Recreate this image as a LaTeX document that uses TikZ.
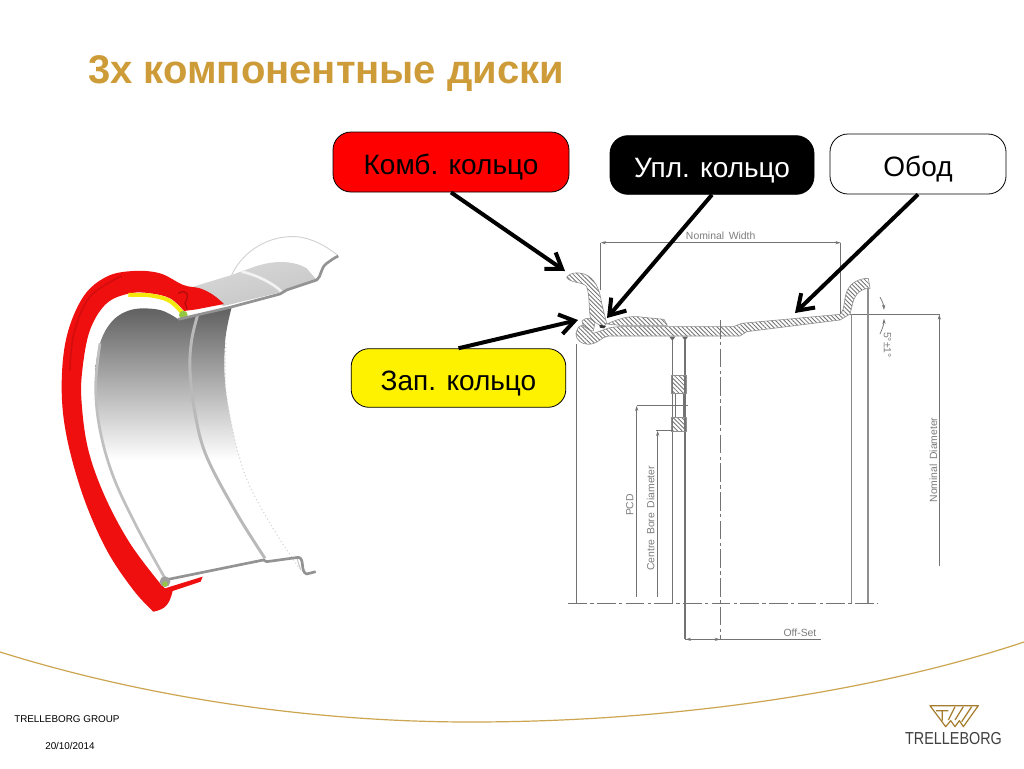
\documentclass[tikz,border=0pt]{standalone}
\usepackage{fontspec}
\setmainfont{Liberation Sans}
\usetikzlibrary{arrows.meta,patterns.meta}
\definecolor{gold}{RGB}{205,155,55}
\definecolor{curvegold}{RGB}{205,165,80}
\definecolor{dwg}{RGB}{115,115,115}
\definecolor{dwgtext}{RGB}{125,125,125}
\definecolor{rimred}{RGB}{240,15,15}
\tikzset{
  callout/.style={draw=black,line width=0.6pt,rounded corners=13.5pt,font=\fontsize{21pt}{25pt}\selectfont,inner sep=0pt},
  pointer/.style={draw=black,line width=3pt,-{Straight Barb[length=11pt,width=15pt,line width=3pt]}},
  dim/.style={draw=dwg,line width=0.55pt},
  dimthick/.style={draw=dwg!85,line width=0.9pt},
  centre/.style={draw=dwg,line width=0.7pt,dash pattern=on 14pt off 2.5pt on 2.5pt off 2.5pt},
  tick/.style={-{Stealth[length=4pt,width=2.4pt]}},
  hatched/.style={draw=dwg!80,line width=0.45pt,pattern={Lines[angle=-45,distance=2.3pt,line width=0.65pt]},pattern color=dwg},
  dwgtxt/.style={text=dwgtext,font=\fontsize{7.8pt}{9pt}\selectfont,inner sep=0pt},
  section/.style={draw=gray!85,line width=2pt,line join=round},
}
\newcommand{\lowertext}[1]{\raisebox{-9pt}[0pt][0pt]{#1}}
\begin{document}
\begin{tikzpicture}[x=0.75pt,y=-0.75pt]
\useasboundingbox (0,0) rectangle (1024,768);
\fill[white] (0,0) rectangle (1024,768);
% title
\node[anchor=west,inner sep=0pt,text=gold,font=\fontsize{30pt}{36pt}\selectfont\bfseries] (title) at (88,74) {3х компонентные диски};
% footer curve
\draw[curvegold,line width=0.9pt] (0,652) .. controls (170,705) and (340,722) .. (470,722) .. controls (680,722) and (880,690) .. (1024,642);
\node[anchor=west,inner sep=0pt,font=\fontsize{7.4pt}{9pt}\selectfont] (group) at (14,719.5) {TRELLEBORG GROUP};
\node[anchor=west,inner sep=0pt,font=\fontsize{7.4pt}{9pt}\selectfont] (date) at (45,745.5) {20/10/2014};
% logo
\begin{scope}[shift={(880,690)},scale=1/3]
\draw[gold!80!black,line width=0.9pt,line join=round] (150,47) -- (295,47) -- (250,110) -- (238,92) -- (225,110) -- (212,92) -- (197,110) -- cycle;
\draw[gold!80!black,line width=0.9pt] (168,62) -- (205,62) (187,62) -- (187,92)
  (225,50) -- (205,90) (250,50) -- (225,90) (275,50) -- (245,95);
\end{scope}
\node[inner sep=0pt,text=black!75,font=\fontsize{13pt}{15pt}\selectfont] (logotext) at (953.5,738.5) {\scalebox{0.83}[1]{TRELLEBORG}};
% wheel illustration
\begin{scope}[shift={(50,230)},scale=1/3]
% back lobe
\draw[gray!35,line width=0.7pt,fill=white] (545,135) .. controls (580,60) and (660,15) .. (740,20) .. controls (790,25) and (830,50) .. (862,75);
% upper inner surface
\shade[top color=gray!30,bottom color=gray!45,shading angle=15] (430,170) -- (545,135) -- (600,115) .. controls (650,95) and (720,85) .. (770,115) -- (800,150) -- (700,185) -- (520,228) -- (470,190) -- cycle;
\draw[white!90!gray,line width=2pt] (575,125) .. controls (620,135) and (670,160) .. (695,185);
% interior
\begin{scope}
\clip plot[smooth,tension=0.6] coordinates {(385,268) (330,240) (250,238) (190,270) (150,340) (135,450) (150,600) (190,740) (260,890) (345,1045)} -- (750,985) -- plot[smooth,tension=0.6] coordinates {(660,880) (580,720) (530,500) (525,340) (545,232)} -- cycle;
\shade[top color=black!62,bottom color=white] (100,235) rectangle (700,690);
\end{scope}
\draw[gray!50,line width=2pt] plot[smooth,tension=0.6] coordinates {(345,1045) (260,890) (190,740) (150,600) (137,470) (150,340)};
\draw[gray!55,line width=2.2pt] plot[smooth,tension=0.6] coordinates {(443,255) (425,330) (420,420) (435,550) (470,680) (560,850) (645,985)};
\draw[gray!35,line width=0.8pt,dotted] plot[smooth,tension=0.6] coordinates {(528,340) (530,500) (580,720) (660,880) (745,1010)};
\draw[gray!40,line width=0.8pt] (740,982) -- (752,1020);
% red ring
\fill[rimred] plot[smooth,tension=0.6] coordinates {(310,1145) (250,1080) (170,960) (100,800) (50,620) (35,470) (50,320) (100,200) (170,140) (250,123) (330,130) (400,165) (450,175) (490,195) (522,222)} -- (440,238) -- plot[smooth,tension=0.6] coordinates {(402,243) (360,205) (300,190) (240,190) (170,220) (120,300) (97,420) (95,520) (115,660) (165,800) (240,940) (330,1060)} -- (345,1075) -- (458,1040) -- (452,1055) -- (368,1083) .. controls (358,1125) and (345,1138) .. (310,1145) -- cycle;
\draw[rimred!88!black,line width=1.2pt] plot[smooth,tension=0.6] coordinates {(60,420) (72,310) (120,200) (215,138)};
\draw[rimred!75!black,line width=1pt] (385,190) .. controls (410,175) and (420,195) .. (405,220) -- (412,238);
% yellow lock ring
\draw[yellow!95!black,line width=3pt] plot[smooth,tension=0.6] coordinates {(398,250) (358,212) (300,196) (235,195)};
\fill[yellow!55!green!80!gray] (400,255) circle (13);
% rim sections
\draw[section] (385,268) -- (540,232) -- (690,192) -- (710,180) -- (800,150) .. controls (815,140) and (810,115) .. (830,100) .. controls (845,90) and (850,85) .. (865,78);
\draw[section] (345,1050) -- (640,990) -- (650,995) -- (745,982) .. controls (765,985) and (750,1025) .. (770,1032) -- (797,1025);
\fill[gray!75] (345,1055) circle (16);
\fill[yellow!55!green!80!gray] (345,1062) circle (8);
\end{scope}
% technical drawing
\begin{scope}[shift={(560,220)},scale=1/3]
\draw[hatched] plot[smooth,tension=0.35] coordinates {(48,340) (55,322) (68,316) (85,325)} -- (100,340) -- (130,330) .. controls (150,320) and (170,320) .. (200,320) -- (520,320) -- (545,310) -- (840,283) .. controls (855,270) and (850,245) .. (860,215) .. controls (870,190) and (895,175) .. (925,175) -- (930,205) .. controls (905,205) and (885,220) .. (878,250) -- (870,282) -- (840,300) -- (560,335) -- (540,348) -- (145,348) .. controls (125,350) and (115,372) .. (85,373) .. controls (65,372) and (48,362) .. (48,340) -- cycle;
\draw[hatched] (140,312) .. controls (180,295) and (210,285) .. (250,292) -- (312,298) -- (322,316) -- (180,316) -- cycle;
\draw[hatched] (20,172) .. controls (30,155) and (65,155) .. (85,168) .. controls (110,185) and (120,215) .. (125,250) -- (140,310) -- (128,322) -- (92,298) .. controls (85,260) and (90,230) .. (80,200) .. controls (70,185) and (30,190) .. (20,172) -- cycle;
\draw[hatched] (66,303) .. controls (75,292) and (95,290) .. (105,308) -- (100,333) .. controls (90,333) and (80,325) .. (70,318) -- cycle;
\fill[black!80] (118,314) -- (138,318) -- (132,325) -- (120,323) -- cycle;
\fill[black!60] (328,350) -- (346,350) -- (337,362) -- cycle (366,350) -- (384,350) -- (375,362) -- cycle;
% dimension lines
\draw[dim] (122,68) -- (122,210);
\draw[dim] (842,68) -- (842,283);
\draw[dim,tick] (480,68) -- (122,68);
\draw[dim,tick] (480,68) -- (842,68);
\draw[dim] (870,283) -- (1140,283);
\draw[dim,tick] (960,232) .. controls (968,245) and (971,255) .. (972,270);
\draw[dim,tick] (960,342) .. controls (968,325) and (972,310) .. (972,296);
\node[dwgtxt] (nomwidth) at (482,48) {Nominal\, Width};
\node[dwgtxt,rotate=-90] (angle) at (982,375) {5°±1°};
\end{scope}
\begin{scope}[shift={(560,400)},scale=1/3]
\draw[dim] (48,-168) -- (48,610);
\draw[dimthick] (875,-257) -- (875,610);
\draw[dim,line width=1.4pt,draw=dwg!80] (925,-335) -- (925,610);
\draw[dim,line width=0.8pt] (337,-180) -- (337,610);
\draw[dim,line width=0.8pt] (375,-180) -- (375,718);
\draw[dim] (345,-21) -- (345,52) (370,-21) -- (370,52);
\draw[hatched] (335,-75) rectangle (378,-21);
\draw[hatched] (335,52) rectangle (378,95);
\draw[dim] (230,17) -- (385,17);
\draw[dim] (288,92) -- (337,92);
\draw[dim,tick] (230,590) -- (230,17);
\draw[dim,tick] (293,590) -- (293,92);
\draw[dim,tick] (1138,498) -- (1138,-257);
\draw[dim] (375,718) -- (782,718);
\draw[dim,tick] (430,718) -- (377,718);
\draw[dim,tick] (435,718) -- (480,718);
\draw[centre] (482,-240) -- (482,718);
\draw[centre] (25,610) -- (952,610);
\node[dwgtxt,rotate=90] (pcd) at (209,315) {PCD};
\node[dwgtxt,rotate=90] (bore) at (272,355) {Centre\, Bore\, Diameter};
\node[dwgtxt] (offset) at (720,698) {Off-Set};
\node[dwgtxt,rotate=90] (nomdiam) at (1120,180) {Nominal\, Diameter};
\end{scope}
% callouts
\node[callout,fill=red,text=black,minimum width=177pt,minimum height=45pt] (kombo) at (451,162) {\lowertext{Комб. кольцо}};
\node[callout,fill=black,text=white,minimum width=153pt,minimum height=44pt] (upl) at (712,165) {\lowertext{Упл. кольцо}};
\node[callout,fill=white,text=black,minimum width=132pt,minimum height=45pt] (obod) at (918,164) {\lowertext{Обод}};
\node[callout,fill=yellow,text=black,minimum width=161pt,minimum height=44pt] (zap) at (458.5,378) {\lowertext{Зап. кольцо}};
\coordinate (tipkombo) at (565,271);
\coordinate (tipupl) at (607,318);
\coordinate (tipobod) at (795,313);
\coordinate (tipzap) at (578,320);
\draw[pointer] (kombo.south) -- (tipkombo);
\draw[pointer] (upl.south) -- (tipupl);
\draw[pointer] (obod.south) -- (tipobod);
\draw[pointer] (zap.north) -- (tipzap);
\end{tikzpicture}
\end{document}
